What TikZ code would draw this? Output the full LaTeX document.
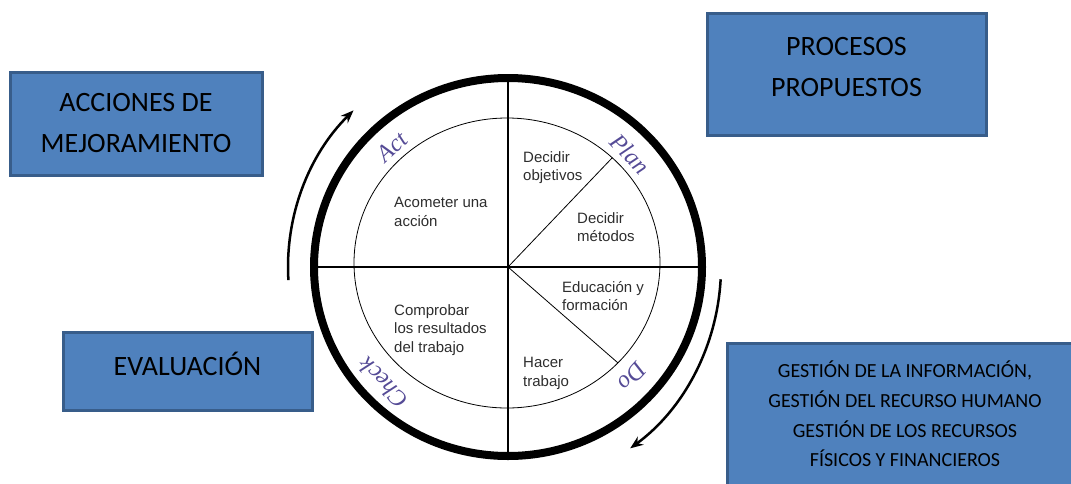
\documentclass[tikz,border=0pt]{standalone}
\usepackage{fontspec}
\setmainfont{Liberation Serif}
\newfontfamily\boxfont{Carlito}
\newfontfamily\cellfont{Liberation Sans}
\usetikzlibrary{shapes.geometric,arrows.meta}
\definecolor{boxfill}{RGB}{79,129,189}
\definecolor{boxline}{RGB}{56,93,138}
\definecolor{pdca}{RGB}{85,75,150}
\definecolor{celltext}{RGB}{45,45,45}
\begin{document}
\begin{tikzpicture}[x=1pt,y=-1pt,
  bluebox/.style={draw=boxline, fill=boxfill, line width=3pt, align=center, inner sep=0pt, outer sep=0pt, text=black},
  bigtxt/.style={font=\boxfont\fontsize{28}{41}\selectfont},
  smalltxt/.style={font=\boxfont\fontsize{20}{29.7}\selectfont},
  cell/.style={font=\cellfont\fontsize{15}{18.5}\selectfont, text=celltext, align=left, anchor=north west, inner sep=0pt},
  phase/.style={font=\itshape\fontsize{24}{24}\selectfont, text=pdca, inner sep=0pt},
  cyc/.style={line width=2.5pt, -{Stealth[length=13pt,width=10pt]}},
  ring/.style={ellipse, draw, inner sep=0pt, outer sep=0pt}
]
\useasboundingbox (0,0) rectangle (1071,483);

% wheel
\node[ring, line width=8pt, minimum width=388pt, minimum height=378pt] (outer) at (508,267) {};
\node[ring, line width=0.8pt, minimum width=306pt, minimum height=290pt] (inner) at (507,263) {};
\coordinate (c) at (508,267);
\draw[line width=2.5pt] (outer.west) -- (outer.east);
\draw[line width=2.5pt] (outer.north) -- (outer.south);
\draw[line width=0.8pt] (c) -- (inner.45);
\draw[line width=0.8pt] (c) -- (inner.-42);

% phase labels
\node[phase, rotate=43] (act) at (392,147) {Act};
\node[phase, rotate=-46] (plan) at (630,154) {Plan};
\node[phase, rotate=-132] (do) at (632,377) {Do};
\node[phase, rotate=133] (check) at (383,383) {Check};

% cell texts
\node[cell] (obj) at (523,151) {Decidir\\objetivos};
\node[cell] (acc) at (394,197) {Acometer una\\acción};
\node[cell] (met) at (577,212) {Decidir\\métodos};
\node[cell] (edu) at (562,281) {Educación y\\formación};
\node[cell] (comp) at (394,304) {Comprobar\\los resultados\\del trabajo};
\node[cell] (hac) at (523,357) {Hacer\\trabajo};

% cycle arrows
\draw[cyc] (c) ++(183.4:220pt) arc[start angle=183.4, end angle=134.6, radius=220pt];
\draw[cyc] (c) ++(-3.3:213pt) arc[start angle=-3.3, end angle=-55, x radius=213pt, y radius=222pt];

% boxes
\node[bluebox, bigtxt, minimum width=252pt, minimum height=103pt] (mej) at (136,123.5) {ACCIONES DE\\MEJORAMIENTO};
\node[bluebox, bigtxt, minimum width=279pt, minimum height=122pt, text depth=14pt] (proc) at (846.5,74) {PROCESOS\\PROPUESTOS};
\node[bluebox, bigtxt, minimum width=249pt, minimum height=78pt, text height=22pt, text depth=14pt] (eval) at (187.5,371) {EVALUACIÓN};
\node[bluebox, smalltxt, minimum width=356pt, minimum height=142pt] (gest) at (905,414) {GESTIÓN DE LA INFORMACIÓN,\\GESTIÓN DEL RECURSO HUMANO\\GESTIÓN DE LOS RECURSOS\\FÍSICOS Y FINANCIEROS};
\end{tikzpicture}
\end{document}
